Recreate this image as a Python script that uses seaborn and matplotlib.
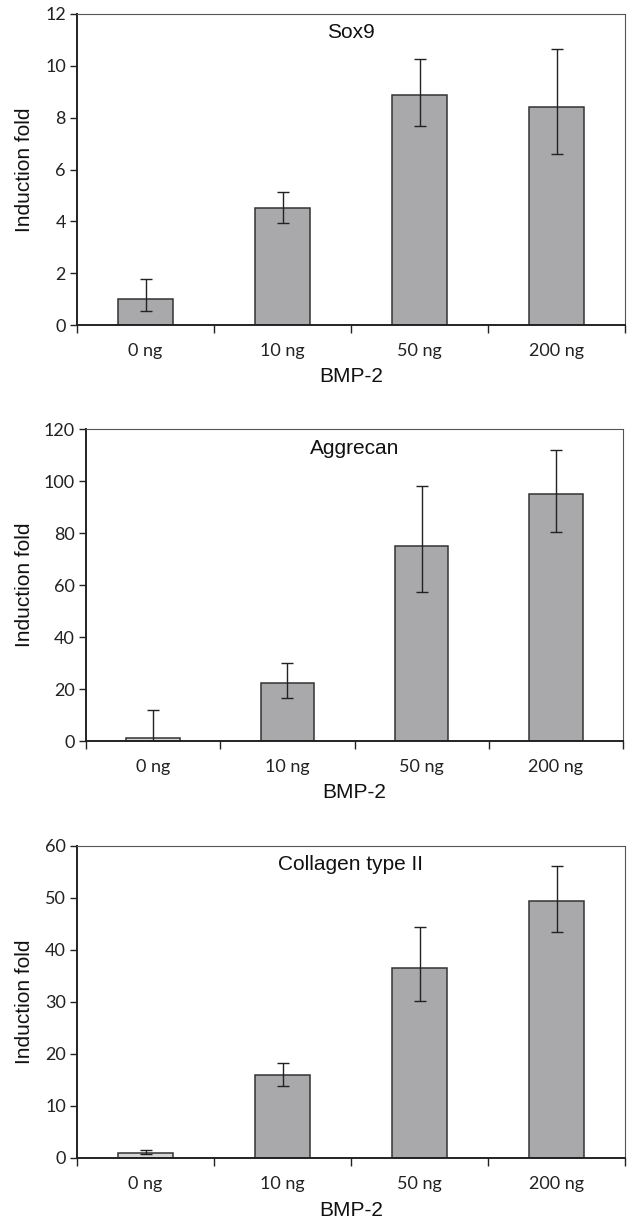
import pandas as pd
import matplotlib
matplotlib.use("Agg")
import matplotlib.pyplot as plt
import seaborn as sns
import numpy as np

sns.set_theme(style="white")
plt.rcParams['font.family'] = ['Liberation Sans', 'DejaVu Sans']

# --- data ---
doses = ["0 ng", "10 ng", "50 ng", "200 ng"]

sox9_mean = [1.0, 4.5, 8.87, 8.4]
sox9_low = [0.55, 3.92, 7.68, 6.6]
sox9_high = [1.78, 5.13, 10.26, 10.66]

aggrecan_mean = [1.0, 22.3, 75.0, 95.0]
aggrecan_low = [0.0, 16.6, 57.2, 80.5]
aggrecan_high = [12.1, 30.0, 97.9, 111.9]

col2_mean = [1.0, 15.9, 36.6, 49.5]
col2_low = [0.7, 13.8, 30.2, 43.5]
col2_high = [1.48, 18.3, 44.4, 56.2]

panels = [
    ("Sox9", sox9_mean, sox9_low, sox9_high, 12, 2, ["#a8a9ac"] * 4),
    ("Aggrecan", aggrecan_mean, aggrecan_low, aggrecan_high, 120, 20,
     ["#d6d6d8", "#a8a9ac", "#a8a9ac", "#a8a9ac"]),
    ("Collagen type II", col2_mean, col2_low, col2_high, 60, 10,
     ["#d6d6d8", "#a8a9ac", "#a8a9ac", "#a8a9ac"]),
]

W, H = 632, 1219
# axes boxes in pixels: left, top, right, bottom
boxes = [(77, 14, 625, 325), (86, 429, 623, 741), (77, 846, 625, 1158)]

fig = plt.figure(figsize=(W / 100, H / 100), dpi=100)
tick_font = dict(family=['Lato', 'DejaVu Sans'], size=13, color='#222222')

for (title, mean, low, high, ymax, step, colors), (l, t, r, b) in zip(panels, boxes):
    ax = fig.add_axes([l / W, 1 - b / H, (r - l) / W, (b - t) / H])
    df = pd.DataFrame({"dose": doses, "fold": mean})
    sns.barplot(data=df, x="dose", y="fold", hue="dose", palette=colors,
                legend=False, width=0.4, errorbar=None,
                edgecolor="#333333", linewidth=1.1, ax=ax)
    m = np.array(mean)
    yerr = [m - np.array(low), np.array(high) - m]
    ax.errorbar(range(len(doses)), m, yerr=yerr, fmt='none', ecolor='#222222',
                elinewidth=1.0, capsize=4, capthick=1.0)

    ax.set_xlim(-0.5, 3.5)
    ax.set_ylim(0, ymax)
    ax.set_yticks(np.arange(0, ymax + 1, step))
    ax.set_xticks(range(len(doses)))
    ax.set_xticklabels(doses, **tick_font)
    ax.set_yticklabels([str(v) for v in np.arange(0, ymax + 1, step)], **tick_font)
    ax.set_xticks(np.arange(-0.5, 4, 1), minor=True)
    ax.tick_params(axis='x', which='major', length=0, pad=13)
    ax.tick_params(axis='x', which='minor', length=6, width=1.0, color='#222222', bottom=True)
    ax.tick_params(axis='y', which='major', length=5, width=1.0, color='#222222', left=True, pad=3)

    for side in ['left', 'bottom']:
        ax.spines[side].set_color('#222222')
        ax.spines[side].set_linewidth(1.4)
    for side in ['top', 'right']:
        ax.spines[side].set_color('#555555')
        ax.spines[side].set_linewidth(0.8)

    ax.text(0.5, 1 - 19 / (b - t), title, transform=ax.transAxes,
            ha='center', va='center', fontsize=15, color='#111111')
    ax.set_xlabel("BMP-2", fontsize=15, color='#111111')
    ax.xaxis.set_label_coords(0.5, -52 / (b - t))
    ax.set_ylabel("Induction fold", fontsize=15, color='#111111')
    ax.yaxis.set_label_coords((25 - l) / (r - l), 0.5)
    ax.xaxis.label.set_va('center')
    ax.yaxis.label.set_va('center')

fig.savefig("out.png", dpi=100)
